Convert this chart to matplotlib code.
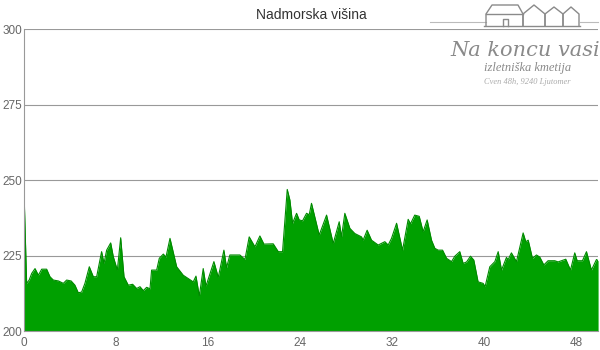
import matplotlib
matplotlib.use("Agg")
from matplotlib import pyplot as plt
from matplotlib.lines import Line2D

plt.rcParams['font.family'] = ['Liberation Sans', 'DejaVu Sans']

# distance (km) and elevation (m)
distance = [0.0, 0.03, 0.23, 0.45, 0.67, 0.96, 1.25, 1.54, 1.97, 2.26, 2.55, 3.0, 3.42, 3.71,
            4.1, 4.43, 4.72, 5.01, 5.30, 5.68, 6.03, 6.32, 6.75, 6.96, 7.19, 7.54, 7.77,
            8.12, 8.41, 8.70, 9.07, 9.45, 9.80, 10.09, 10.38, 10.67, 10.96, 11.1, 11.54,
            11.77, 12.12, 12.35, 12.7, 13.28, 13.85, 14.72, 14.96, 15.25, 15.59, 15.83,
            16.52, 16.9, 17.39, 17.62, 17.91, 18.78, 19.22, 19.59, 20.09, 20.52, 20.87,
            21.68, 22.12, 22.49, 22.9, 23.13, 23.36, 23.71, 23.94, 24.23, 24.58, 24.81,
            25.01, 25.68, 26.32, 26.9, 27.42, 27.62, 27.91, 28.35, 28.78, 29.36, 29.5,
            29.85, 30.23, 30.81, 31.39, 31.68, 31.97, 32.41, 32.93, 33.42, 33.62, 33.99,
            34.38, 34.72, 35.07, 35.45, 35.74, 36.03, 36.41, 36.76, 37.19, 37.48, 37.91,
            38.2, 38.5, 38.84, 39.13, 39.5, 39.94, 40.11, 40.52, 40.96, 41.25, 41.54,
            41.97, 42.11, 42.4, 42.84, 43.42, 43.65, 43.86, 44.23, 44.58, 44.87, 45.22,
            45.59, 46.17, 46.46, 47.13, 47.54, 47.91, 48.12, 48.58, 48.93, 49.36, 49.8, 49.94]
elevation = [242.0, 242.4, 215.8, 216.9, 219.1, 220.7, 218.5, 220.5, 220.5, 218.0, 216.9, 216.6, 215.8, 216.9,
             216.6, 215.2, 212.7, 212.9, 215.8, 221.3, 218.0, 218.0, 226.3, 222.4, 226.8, 229.2, 224.6,
             220.2, 230.9, 218.0, 215.2, 215.5, 214.1, 214.7, 213.4, 214.5, 214.0, 220.2, 220.2,
             224.1, 225.5, 224.5, 230.7, 221.3, 218.5, 216.3, 218.2, 211.6, 220.7, 214.9,
             223.0, 217.8, 226.8, 221.0, 225.2, 225.2, 223.7, 231.2, 227.9, 231.5, 228.8,
             228.9, 226.3, 226.3, 246.9, 243.4, 235.7, 239.0, 236.8, 236.5, 239.0, 238.5,
             242.3, 231.8, 238.4, 229.0, 236.2, 231.2, 239.0, 234.0, 232.3, 231.2, 230.1,
             233.4, 230.1, 228.5, 229.6, 228.5, 230.7, 235.7, 226.8, 237.0, 235.5, 238.4,
             238.0, 232.9, 236.8, 230.1, 227.4, 226.8, 226.8, 224.1, 223.0, 224.8, 226.3,
             222.4, 222.9, 224.8, 223.5, 216.3, 215.8, 214.7, 221.3, 223.0, 226.3, 220.2,
             224.4, 223.6, 225.9, 223.0, 232.5, 229.6, 230.1, 224.1, 225.2, 224.5, 221.9,
             223.3, 223.3, 222.9, 223.8, 220.2, 225.9, 223.3, 223.3, 226.3, 220.2, 223.7, 223.3]

y_ticks = [200, 225, 250, 275, 300]
x_ticks = [0, 8, 16, 24, 32, 40, 48]

fig = plt.figure(figsize=(6, 3.5), dpi=100)
ax = fig.add_axes([0.04, 0.054, 0.957, 0.863])

ax.fill_between(distance, elevation, 200, color='#00a000', lw=0)
ax.plot(distance, elevation, color='#008a00', lw=0.8)

ax.set_xlim(0, 49.95)
ax.set_ylim(200, 300)
ax.set_yticks(y_ticks)
ax.set_xticks(x_ticks)
ax.grid(axis='y', color='#999999', lw=0.8)
ax.set_axisbelow(True)
for side in ['top', 'right']:
    ax.spines[side].set_visible(False)
ax.spines['left'].set_color('#999999')
ax.spines['bottom'].set_color('#999999')
ax.tick_params(length=0, labelsize=8.5, labelcolor='#666666')
ax.tick_params(axis='y', pad=1.5)
ax.tick_params(axis='x', pad=4)
ax.set_title('Nadmorska višina', fontsize=10, color='#333333', pad=7)

# logo in the top right corner (decoration)
gray = '#8a8a8a'
fig.add_artist(Line2D([430 / 600, 486 / 600], [1 - 22 / 350] * 2, color='#bbbbbb', lw=0.8))
fig.add_artist(Line2D([580 / 600, 598 / 600], [1 - 22 / 350] * 2, color='#bbbbbb', lw=0.8))
houses = [
    ([486, 486, 492, 518, 523, 523], [26, 14, 5, 5, 14, 26]),
    ([486, 523], [14, 14]),
    ([523, 523, 534, 545, 545], [26, 14, 5, 14, 26]),
    ([545, 545, 554, 563, 563], [26, 14, 7, 14, 26]),
    ([563, 563, 571, 579, 579], [26, 14, 7, 14, 26]),
    ([484, 580], [26, 26]),
    ([503, 503, 508, 508], [26, 19, 19, 26]),
]
for hx, hy in houses:
    fig.add_artist(Line2D([v / 600 for v in hx], [1 - v / 350 for v in hy], color=gray, lw=1))
fig.text(525 / 600, 1 - 50 / 350, 'Na koncu vasi', fontsize=15, style='italic',
         family=['DejaVu Serif'], color=gray, ha='center', va='center')
fig.text(528 / 600, 1 - 68 / 350, 'izletniška kmetija', fontsize=9, style='italic',
         family=['Liberation Serif'], color=gray, ha='center', va='center')
fig.text(527 / 600, 1 - 82 / 350, 'Cven 48h, 9240 Ljutomer', fontsize=6, style='italic',
         family=['Liberation Serif'], color='#aaaaaa', ha='center', va='center')

fig.savefig('out.png', dpi=100)
